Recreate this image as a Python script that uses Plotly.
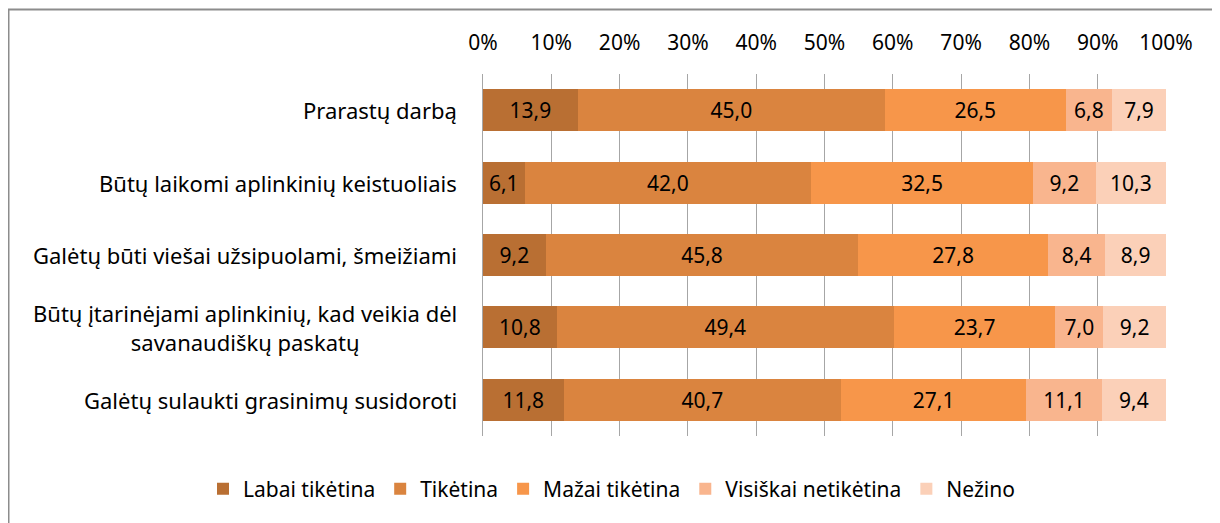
import plotly.graph_objects as go

categories = [
    "Prarastų darbą",
    "Būtų laikomi aplinkinių keistuoliais",
    "Galėtų būti viešai užsipuolami, šmeižiami",
    "Būtų įtarinėjami aplinkinių, kad veikia dėl<br>savanaudiškų paskatų",
    "Galėtų sulaukti grasinimų susidoroti",
]
series_names = ["Labai tikėtina", "Tikėtina", "Mažai tikėtina", "Visiškai netikėtina", "Nežino"]
labai = [13.9, 6.1, 9.2, 10.8, 11.8]
tiketina = [45.0, 42.0, 45.8, 49.4, 40.7]
mazai = [26.5, 32.5, 27.8, 23.7, 27.1]
visiskai = [6.8, 9.2, 8.4, 7.0, 11.1]
nezino = [7.9, 10.3, 8.9, 9.2, 9.4]
tick_vals = [0, 10, 20, 30, 40, 50, 60, 70, 80, 90, 100]
tick_text = ["0%", "10%", "20%", "30%", "40%", "50%", "60%", "70%", "80%", "90%", "100%"]

colors = ["#B96F33", "#DA843F", "#F7964A", "#F9B58E", "#FBD0B8"]
FONT = "Noto Sans"
FS = 22

# page body adds an 8px offset; figure sized to fit the window
W, H = 1212, 515
L, R, T, B = 475, 54, 66, 87
PW, PH = W - L - R, H - T - B

fig = go.Figure()
for name, vals, col in zip(series_names, [labai, tiketina, mazai, visiskai, nezino], colors):
    fig.add_trace(go.Bar(
        name=name,
        y=categories,
        x=vals,
        orientation="h",
        marker=dict(color=col, line=dict(width=0)),
        text=[f"{v:.1f}".replace(".", ",") for v in vals],
        textposition="inside",
        insidetextanchor="middle",
        textangle=0,
        textfont=dict(family=FONT, size=FS - 1, color="black"),
        cliponaxis=False,
        constraintext="none",
        hoverinfo="skip",
    ))

for c in categories:
    fig.add_annotation(
        x=0, xref="paper", xanchor="right", xshift=-24,
        y=c, yref="y", text=c, showarrow=False, align="center",
        font=dict(family=FONT, size=FS, color="black"),
    )

fig.add_shape(type="rect", xref="paper", yref="paper",
              x0=(0.5 - L) / PW, x1=1.2, y0=-0.4, y1=(PH + T - 1.5) / PH,
              line=dict(color="#8C8C8C", width=2), layer="below")

fig.update_layout(
    barmode="stack",
    barnorm="percent",
    bargap=0.42,
    width=W, height=H,
    margin=dict(l=L, r=R, t=T, b=B, autoexpand=False),
    plot_bgcolor="white",
    paper_bgcolor="white",
    font=dict(family=FONT, size=FS, color="black"),
    showlegend=True,
    legend=dict(orientation="h", x=(195 - L) / PW, xanchor="left",
                y=(PH + T - 481) / PH, yanchor="middle",
                font=dict(family=FONT, size=FS - 1), itemwidth=30, tracegroupgap=0,
                traceorder="normal"),
    xaxis=dict(
        side="top", range=[0, 100], tickvals=tick_vals, ticktext=tick_text,
        showgrid=True, gridcolor="#A6A6A6", gridwidth=1, zeroline=False,
        tickfont=dict(family=FONT, size=FS - 1), ticks="", fixedrange=True,
        ticklabelstandoff=19,
    ),
    yaxis=dict(
        autorange="reversed", showticklabels=False, showline=True,
        linecolor="#A6A6A6", linewidth=1, ticks="", showgrid=False,
    ),
)

fig.write_html("out.html")
